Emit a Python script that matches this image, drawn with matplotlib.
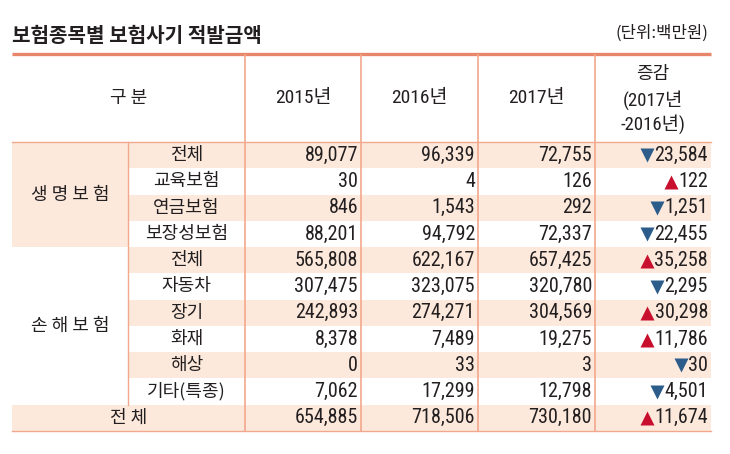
import matplotlib
matplotlib.use('Agg')
import matplotlib.pyplot as plt
from matplotlib.patches import Rectangle

plt.rcParams['font.family'] = ['Noto Sans CJK KR', 'DejaVu Sans']

title = '보험종목별 보험사기 적발금액'
unit = '(단위:백만원)'
groups = ['생 명 보 험', '손 해 보 험']
life_items = ['전체', '교육보험', '연금보험', '보장성보험']
nonlife_items = ['전체', '자동차', '장기', '화재', '해상', '기타(특종)']
total_label = '전 체'
year_labels = ['2015년', '2016년', '2017년']
y2015 = [89077, 30, 846, 88201, 565808, 307475, 242893, 8378, 0, 7062, 654885]
y2016 = [96339, 4, 1543, 94792, 622167, 323075, 274271, 7489, 33, 17299, 718506]
y2017 = [72755, 126, 292, 72337, 657425, 320780, 304569, 19275, 3, 12798, 730180]
change = [-23584, 122, -1251, -22455, 35258, -2295, 30298, 11786, -30, -4501, 11674]

TXT = '#231f20'
SHADE = '#fce9dc'
LINE = '#f2a88c'
THICK = '#e8866b'
UP = '#c8102e'
DOWN = '#2b5c8a'
NUMFONT = ['Roboto Condensed', 'Noto Sans CJK KR']
KFS = 13

W, H = 730, 454
fig = plt.figure(figsize=(7.3, 4.54), dpi=100)
ax = fig.add_axes([0, 0, 1, 1])
ax.set_xlim(0, W)
ax.set_ylim(H, 0)
ax.axis('off')

xs = [12, 128, 245, 361, 478, 595, 711]
top, hdr = 55, 142
nrows = len(y2015)
rh = (431 - hdr) / nrows
row_y = [hdr + i * rh for i in range(nrows + 1)]

# shaded bands
for i in range(0, nrows, 2):
    x0 = xs[0] if i == nrows - 1 else xs[1]
    ax.add_patch(Rectangle((x0, row_y[i]), xs[-1] - x0, rh, color=SHADE, lw=0))
ax.add_patch(Rectangle((xs[0], row_y[0]), xs[1] - xs[0], 4 * rh, color=SHADE, lw=0))

# lines
ax.plot([xs[0], xs[-1]], [53.5, 53.5], color=THICK, lw=2.4, solid_capstyle='butt')
ax.plot([xs[0], xs[-1]], [hdr, hdr], color=LINE, lw=1.0)
ax.plot([xs[0], xs[-1]], [row_y[-1], row_y[-1]], color=LINE, lw=1.0)
for x in xs[2:-1]:
    ax.plot([x, x], [top, row_y[-1]], color=LINE, lw=1.2)
ax.plot([xs[1], xs[1]], [hdr, row_y[-2]], color=LINE, lw=1.0)

# title
ax.text(12, 35, title, fontsize=14.5, fontweight='bold', color=TXT, ha='left', va='center')
ax.text(708, 33, unit, fontsize=12, color=TXT, ha='right', va='center')

# header
hy = (top + hdr) / 2
ax.text((xs[0] + xs[2]) / 2, hy, '구 분', fontsize=KFS, color=TXT, ha='center', va='center')
for j, lab in enumerate(year_labels):
    ax.text((xs[2 + j] + xs[3 + j]) / 2, hy, lab, fontsize=14, color=TXT,
            ha='center', va='center', family=NUMFONT)
cx = (xs[5] + xs[6]) / 2
ax.text(cx, 74, '증감', fontsize=KFS, color=TXT, ha='center', va='center')
ax.text(cx, 100, '(2017년', fontsize=13.5, color=TXT, ha='center', va='center', family=NUMFONT)
ax.text(cx, 124, '-2016년)', fontsize=13.5, color=TXT, ha='center', va='center', family=NUMFONT)

# row labels
mid = lambda i: (row_y[i] + row_y[i + 1]) / 2
ax.text((xs[0] + xs[1]) / 2, (row_y[0] + row_y[4]) / 2, groups[0], fontsize=KFS,
        color=TXT, ha='center', va='center')
ax.text((xs[0] + xs[1]) / 2, (row_y[4] + row_y[10]) / 2, groups[1], fontsize=KFS,
        color=TXT, ha='center', va='center')
for i, lab in enumerate(life_items + nonlife_items):
    ax.text((xs[1] + xs[2]) / 2, mid(i), lab, fontsize=KFS, color=TXT, ha='center', va='center')
ax.text((xs[0] + xs[2]) / 2, mid(nrows - 1), total_label, fontsize=KFS, color=TXT,
        ha='center', va='center')

# numbers
chg_texts = []
for i in range(nrows):
    for j, col in enumerate([y2015, y2016, y2017]):
        ax.text(xs[3 + j] - 3, mid(i), f'{col[i]:,}', fontsize=14.5, color=TXT,
                ha='right', va='center', family=NUMFONT)
    t = ax.text(xs[6] - 3, mid(i), f'{abs(change[i]):,}', fontsize=14.5, color=TXT,
                ha='right', va='center', family=NUMFONT)
    chg_texts.append(t)

fig.canvas.draw()
r = fig.canvas.get_renderer()
for i, t in enumerate(chg_texts):
    bb = t.get_window_extent(r)
    up = change[i] > 0
    ax.plot(bb.x0 - 7.5, mid(i) + (0.5 if up else 0), marker='^' if up else 'v',
            ms=10, color=UP if up else DOWN, mec='none')

fig.savefig('out.png', dpi=100)
